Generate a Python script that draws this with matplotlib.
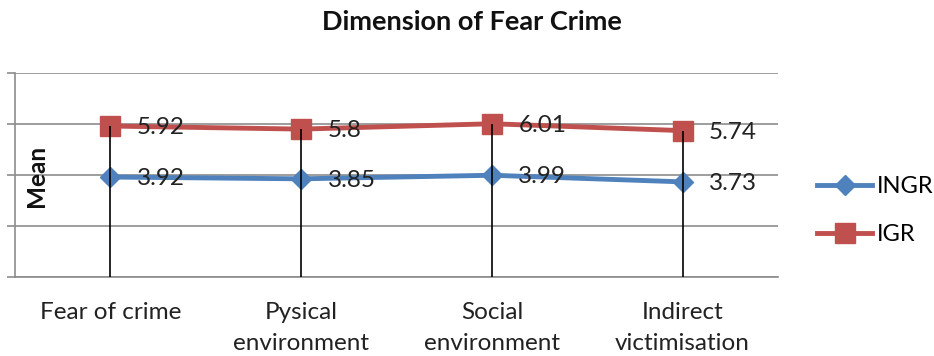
import matplotlib.pyplot as plt

categories = ['Fear of crime', 'Pysical\nenvironment', 'Social\nenvironment', 'Indirect\nvictimisation']
ingr = [3.92, 3.85, 3.99, 3.73]
igr = [5.92, 5.8, 6.01, 5.74]
y_ticks = [0, 2, 4, 6, 8]

plt.rcParams['font.family'] = ['Lato', 'DejaVu Sans']

fig = plt.figure(figsize=(9.34, 3.56), dpi=100)
ax = fig.add_axes([15 / 934, 1 - 277 / 356, (778 - 15) / 934, (277 - 73) / 356])

x = list(range(len(categories)))
blue = '#4F81BD'
red = '#C0504D'

ax.plot(x, ingr, color=blue, lw=3.5, marker='D', markersize=10, label='INGR', zorder=3)
ax.plot(x, igr, color=red, lw=3.5, marker='s', markersize=14, label='IGR', zorder=3)

# drop lines from the highest point to the axis
tops = [max(a, b) for a, b in zip(ingr, igr)]
ax.vlines(x, 0, tops, color='black', lw=1.2, zorder=4)

for xi, a, b in zip(x, ingr, igr):
    for v in (a, b):
        ax.annotate(f'{v:g}', (xi, v), xytext=(19, -1), textcoords='offset points',
                    va='center', ha='left', fontsize=17.5, color='#222222', zorder=5)

ax.set_xlim(-0.5, 3.5)
ax.set_ylim(0, 8)
ax.set_yticks(y_ticks)
ax.set_yticklabels([])
ax.yaxis.grid(True, color='#8C8C8C', lw=1.2)
ax.set_axisbelow(True)
ax.tick_params(axis='y', length=6, color='#8C8C8C', width=1.2)
ax.set_xticks(x)
ax.set_xticklabels(categories, fontsize=17.5, color='#222222', linespacing=1.58)
ax.tick_params(axis='x', length=0, pad=18)

for side in ['top', 'right']:
    ax.spines[side].set_visible(False)
for side in ['left', 'bottom']:
    ax.spines[side].set_color('#8C8C8C')
    ax.spines[side].set_linewidth(1.2)

fig.text(37 / 934, 1 - 176 / 356, 'Mean', rotation=90, ha='center', va='center',
         fontsize=17.5, fontweight='bold', color='#111111')

fig.text(472 / 934, 1 - 22 / 356, 'Dimension of Fear Crime', ha='center', va='center',
         fontsize=19.5, fontweight='bold', color='#111111')

fig.legend(loc='upper left', bbox_to_anchor=(808 / 934, 1 - 167 / 356), frameon=False,
           fontsize=17, handlelength=2.3, labelspacing=1.13, handletextpad=0.2,
           borderaxespad=0)

fig.savefig('out.png', dpi=100)
